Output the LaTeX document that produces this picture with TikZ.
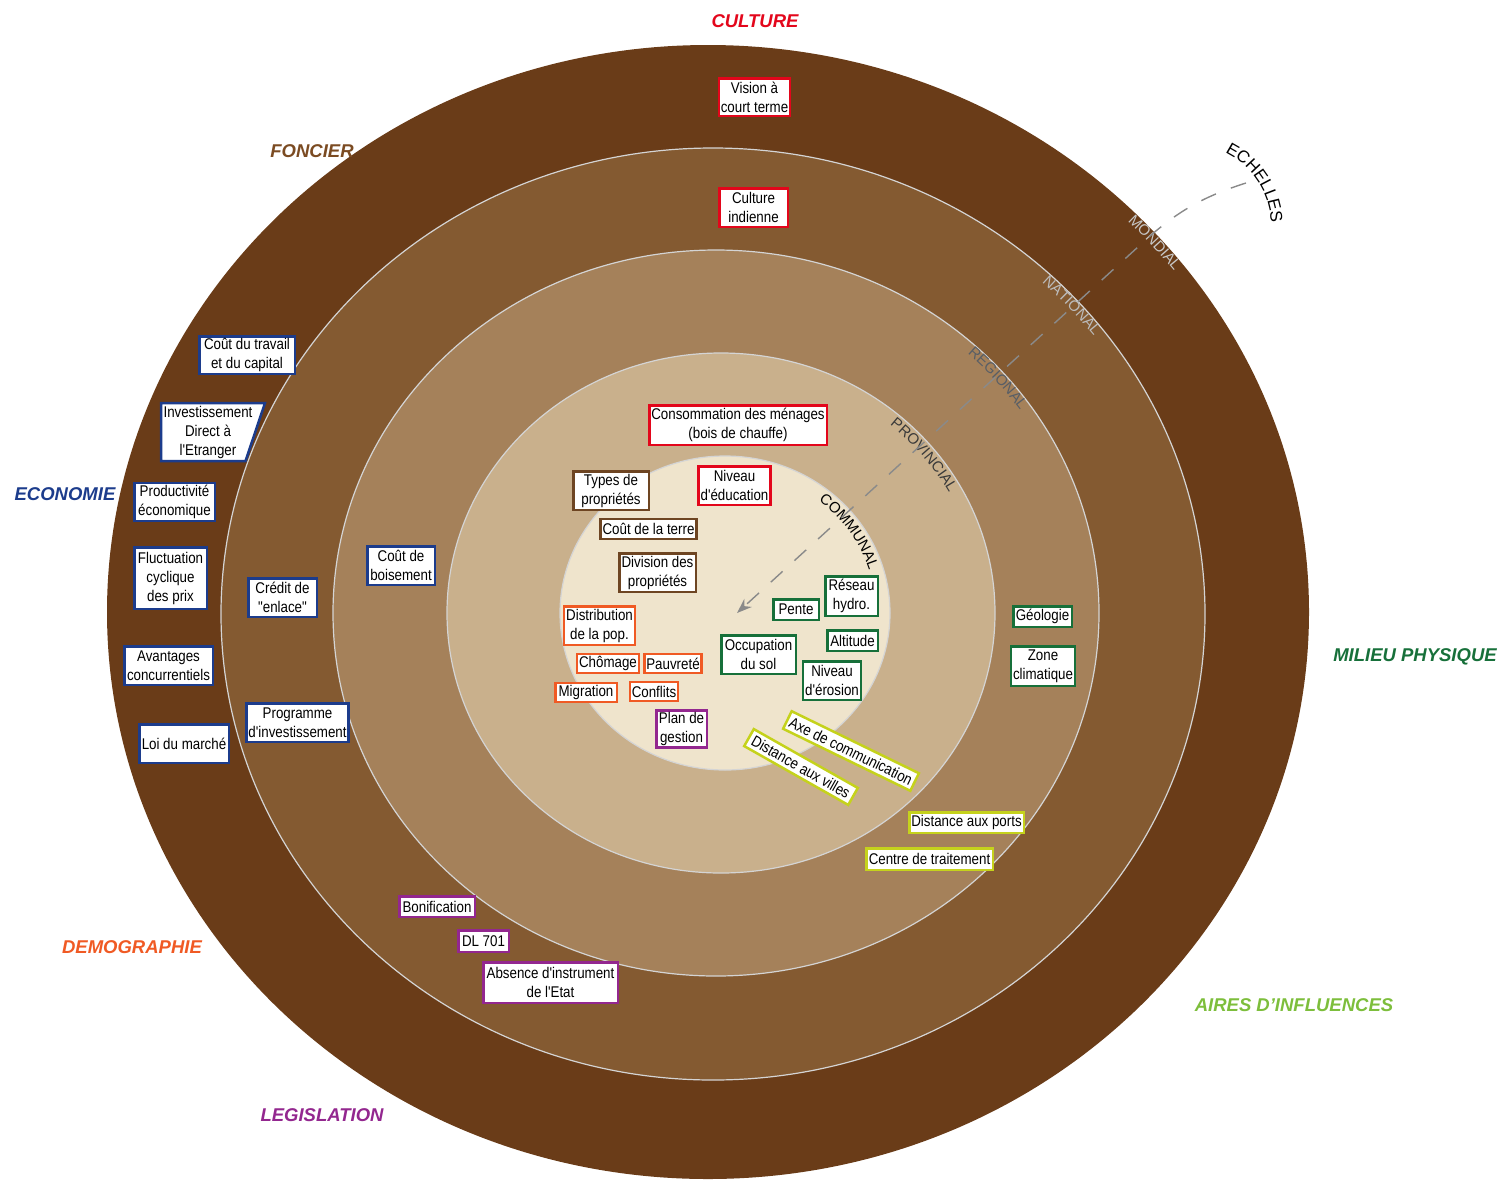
\documentclass[tikz,border=0pt]{standalone}
\usepackage{fontspec}
\setmainfont{Liberation Sans}
\newfontfamily\narrowfont{Liberation Sans}[FakeStretch=0.86]
\usetikzlibrary{decorations.text,arrows.meta}

\definecolor{ringA}{HTML}{6A3C18}
\definecolor{ringB}{HTML}{845A31}
\definecolor{ringC}{HTML}{A5815A}
\definecolor{ringD}{HTML}{C9B08C}
\definecolor{ringE}{HTML}{EFE4CC}
\definecolor{ringLine}{HTML}{D4D4D4}
\definecolor{culRed}{HTML}{E3061B}
\definecolor{foncBrown}{HTML}{6E4522}
\definecolor{foncLabel}{HTML}{7B4B22}
\definecolor{ecoBlue}{HTML}{1C3C8C}
\definecolor{demOrange}{HTML}{F05A24}
\definecolor{legPurple}{HTML}{93278F}
\definecolor{milGreen}{HTML}{17703A}
\definecolor{aireLime}{HTML}{C5D21C}
\definecolor{aireLabel}{HTML}{7DBE3C}
\definecolor{scaleLight}{HTML}{C8C8C8}
\definecolor{scaleMid}{HTML}{BCBCBC}
\definecolor{scaleDark}{HTML}{585E66}
\definecolor{scaleDeep}{HTML}{3A3A3A}
\definecolor{dashGray}{HTML}{8A8A8A}

\tikzset{
  box/.style={draw, fill=white, line width=2.5pt, inner sep=2pt, align=center,
    font=\narrowfont\fontsize{15.5}{19}\selectfont},
  sz/.style 2 args={minimum width=#1pt, minimum height=#2pt},
  cat/.style={font=\bfseries\itshape\fontsize{18.5}{20}\selectfont},
}

\begin{document}
\begin{tikzpicture}[x=1pt,y=-1pt]
\useasboundingbox (0,0) rectangle (1499,1179);

% Rings
\coordinate (cA) at (708,612);
\coordinate (cB) at (713,614);
\coordinate (cC) at (716,613);
\coordinate (cD) at (721,613);
\coordinate (cE) at (725,613);
\fill[ringA] (cA) ellipse [x radius=601, y radius=567];
\draw[ringLine, fill=ringB, line width=1.2pt] (cB) ellipse [x radius=492, y radius=466];
\draw[ringLine, fill=ringC, line width=1.2pt] (cC) ellipse [x radius=383, y radius=363];
\draw[ringLine, fill=ringD, line width=1.2pt] (cD) ellipse [x radius=274, y radius=260];
\draw[ringLine, fill=ringE, line width=1.2pt] (cE) ellipse [x radius=165, y radius=157];

% Scale labels
\path[decorate, decoration={text along path, text align=center,
  text={|\color{scaleLight}\fontsize{15}{15}\selectfont|MONDIAL}}]
  (cA) ++(-63:590 and 556) arc[start angle=-63, end angle=-19, x radius=590, y radius=556];
\path[decorate, decoration={text along path, text align=center,
  text={|\color{scaleMid}\fontsize{15}{15}\selectfont|NATIONAL}}]
  (cB) ++(-66:481 and 455) arc[start angle=-66, end angle=-18, x radius=481, y radius=455];
\path[decorate, decoration={text along path, text align=center,
  text={|\color{scaleDark}\fontsize{15}{15}\selectfont|REGIONAL}}]
  (cC) ++(-67:372 and 352) arc[start angle=-67, end angle=-15, x radius=372, y radius=352];
\path[decorate, decoration={text along path, text align=center,
  text={|\color{scaleDeep}\fontsize{15}{15}\selectfont|PROVINCIAL}}]
  (cD) ++(-71:261 and 247) arc[start angle=-71, end angle=-7, x radius=261, y radius=247];
\path[decorate, decoration={text along path, text align=center,
  text={|\color{black}\fontsize{15}{15}\selectfont|COMMUNAL}}]
  (cE) ++(-74:151 and 143) arc[start angle=-74, end angle=6, x radius=151, y radius=143];
\path[decorate, decoration={text along path, text align=center,
  text={|\color{black}\fontsize{17}{17}\selectfont|ECHELLES}}]
  (1189,226) ++(-83:82) arc[start angle=-83, end angle=17, radius=82];

% Scale arrow
\coordinate (echStart) at (1246,183);
\coordinate (echBend) at (1150,236);
\coordinate (echEnd) at (737,613);
\draw[dashGray, line width=1.4pt, dash pattern=on 16pt off 16pt, -{Stealth[length=15pt,width=11pt]}]
  (echStart) .. controls (1205,196) and (1180,210) .. (echBend) -- (echEnd);

% Category labels
\node[cat, text=culRed] (culture) at (755,21) {CULTURE};
\node[cat, text=foncLabel] (foncier) at (312,151) {FONCIER};
\node[cat, text=ecoBlue] (economie) at (65,494) {ECONOMIE};
\node[cat, text=milGreen] (milieu) at (1415,657) {MILIEU PHYSIQUE};
\node[cat, text=aireLabel] (aires) at (1294,1005) {AIRES D'INFLUENCES};
\node[cat, text=demOrange] (demo) at (132,947) {DEMOGRAPHIE};
\node[cat, text=legPurple] (legis) at (322,1115) {LEGISLATION};

% Culture
\node[box, draw=culRed, sz={68.5}{37.5}] (vision) at (754.5,97) {Vision à\\court terme};
\node[box, draw=culRed, sz={68.5}{38.5}] (cultInd) at (753.5,207.5) {Culture\\indienne};
\node[box, draw=culRed, sz={177.5}{39.5}] (consMen) at (738,425) {Consommation des ménages\\(bois de chauffe)};
\node[box, draw=culRed, sz={68.5}{38.5}] (nivEduc) at (734.5,485.5) {Niveau\\d'éducation};

% Foncier
\node[box, draw=foncBrown, sz={75.5}{38.5}] (typesProp) at (611,490.5) {Types de\\propriétés};
\node[box, draw=foncBrown, sz={94.5}{20}] (coutTerre) at (648.5,529) {Coût de la terre};
\node[box, draw=foncBrown, sz={76.5}{38.5}] (divProp) at (657.5,572.5) {Division des\\propriétés};

% Economie
\filldraw[ecoBlue, fill=white, line width=2.5pt, line join=miter]
  (161,403) -- (265,403) -- (245.5,461) -- (161,461) -- cycle;
\node[box, draw=none, fill=none] (ide) at (208,432) {Investissement\\Direct à\\l'Etranger};
\node[box, draw=ecoBlue, sz={95.5}{37.5}] (coutTrav) at (247,355) {Coût du travail\\et du capital};
\node[box, draw=ecoBlue, sz={80.5}{37.5}] (prodEco) at (174.5,502) {Productivité\\économique};
\node[box, draw=ecoBlue, sz={72.5}{61.5}] (fluctPrix) at (170.5,578) {Fluctuation\\cyclique\\des prix};
\node[box, draw=ecoBlue, sz={88.5}{38.5}] (avantConc) at (168.5,665.5) {Avantages\\concurrentiels};
\node[box, draw=ecoBlue, sz={89.5}{38.5}] (loiMarche) at (184,743.5) {Loi du marché};
\node[box, draw=ecoBlue, sz={68.5}{38.5}] (credit) at (282.5,597.5) {Crédit de\\"enlace"};
\node[box, draw=ecoBlue, sz={98.5}{38.5}] (progInv) at (297.5,722.5) {Programme\\d'investissement};
\node[box, draw=ecoBlue, sz={67.5}{38.5}] (coutBois) at (401,565.5) {Coût de\\boisement};

% Demographie
\node[box, draw=demOrange, sz={66.5}{38.5}] (distPop) at (599.5,625.5) {Distribution\\de la pop.};
\node[box, draw=demOrange, sz={59.5}{19}] (chomage) at (608,663.5) {Chômage};
\node[box, draw=demOrange, sz={55.5}{19}] (pauvrete) at (673,663.5) {Pauvreté};
\node[box, draw=demOrange, sz={61.5}{19}] (migration) at (586,692.5) {Migration};
\node[box, draw=demOrange, sz={47.5}{19}] (conflits) at (654,691.5) {Conflits};

% Legislation
\node[box, draw=legPurple, sz={50.5}{35.5}] (planGest) at (681.5,729) {Plan de\\gestion};
\node[box, draw=legPurple, sz={75.5}{20.5}] (bonif) at (437,906.5) {Bonification};
\node[box, draw=legPurple, sz={50.5}{21.5}] (dlSept) at (483.5,941) {DL 701};
\node[box, draw=legPurple, sz={134.5}{40.5}] (absInstr) at (550.5,982.5) {Absence d'instrument\\de l'Etat};

% Milieu physique
\node[box, draw=milGreen, sz={45.5}{20.5}] (pente) at (796,609.5) {Pente};
\node[box, draw=milGreen, sz={52.5}{39.5}] (reseau) at (851.5,596) {Réseau\\hydro.};
\node[box, draw=milGreen, sz={50.5}{20.5}] (altitude) at (852.5,640.5) {Altitude};
\node[box, draw=milGreen, sz={74.5}{38.5}] (occSol) at (758.5,654.5) {Occupation\\du sol};
\node[box, draw=milGreen, sz={57.5}{38.5}] (erosion) at (832,680.5) {Niveau\\d'érosion};
\node[box, draw=milGreen, sz={58.5}{20.5}] (geologie) at (1042.5,616.5) {Géologie};
\node[box, draw=milGreen, sz={63.5}{39.5}] (climat) at (1043,666) {Zone\\climatique};

% Aires d'influences
\node[box, draw=aireLime, rotate=-29.5, sz={119.5}{19.5}] (distVilles) at (801,767) {Distance aux villes};
\node[box, draw=aireLime, rotate=-26, sz={141.5}{19.5}] (axeCom) at (851,751) {Axe de communication};
\node[box, draw=aireLime, sz={114.5}{20.5}] (distPorts) at (966.5,822.5) {Distance aux ports};
\node[box, draw=aireLime, sz={126.5}{21.5}] (centreTrait) at (929.5,859) {Centre de traitement};
\end{tikzpicture}
\end{document}
